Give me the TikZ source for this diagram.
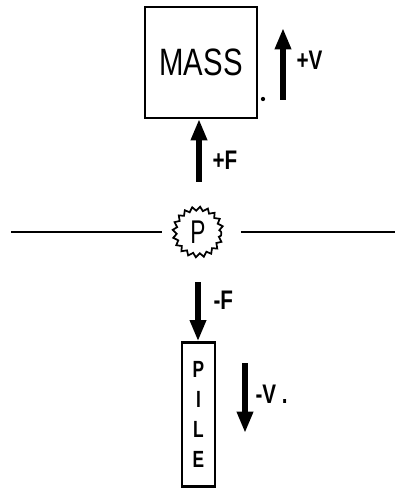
\documentclass[tikz,border=0pt]{standalone}
\usepackage{graphicx}
\usepackage{fontspec}
\setmainfont{Liberation Sans}
\usetikzlibrary{arrows.meta,positioning,decorations.pathmorphing}
\newcommand{\tall}[2][1.3]{\scalebox{1}[#1]{#2}}

\begin{document}
\begin{tikzpicture}[
    x=0.75pt,y=-0.75pt,
    body/.style={draw,line width=1.7pt,inner sep=0pt},
    force/.style={-{Triangle[length=16pt,width=11.5pt]},line width=4pt},
    lbl/.style={font=\fontsize{15.5}{18}\selectfont\bfseries,inner sep=1pt,anchor=west},
  ]
  \useasboundingbox (0,0) rectangle (395,488);

  % Bodies
  \node[body,minimum width=84pt,minimum height=83pt,
        font=\fontsize{22}{24}\selectfont] (mass) at (201,62.5)
        {\raisebox{-5pt}{\tall[1.3]{MASS}}};
  \node[body,minimum width=24.75pt,minimum height=108pt,align=center,
        font=\fontsize{13}{22.5}\selectfont\bfseries] (pile) at (198.5,414.5)
        {\tall[1.35]{P}\\\tall[1.35]{I}\\\tall[1.35]{L}\\\tall[1.35]{E}};

  % Impact point on the ground line
  \node[draw,circle,line width=1.3pt,minimum size=35pt,inner sep=0pt,
        decorate,decoration={zigzag,segment length=5.5pt,amplitude=1.5pt},
        font=\fontsize{17}{20}\selectfont] (p) at (198,232) {\tall[1.45]{P}};
  \coordinate (gl) at (11,232);
  \coordinate (gr) at (395,232);
  \draw[line width=2pt,shorten >=9pt] (gl) -- (p.west);
  \draw[line width=2pt,shorten <=14pt] (p.east) -- (gr);

  % Force and velocity of the mass
  \coordinate (fu) at (199,182);
  \draw[force] (fu) -- (fu |- mass.south);
  \node[lbl] (fulbl) at (211,160) {\tall{+F}};
  \coordinate (vu) at (283,100);
  \coordinate (vutip) at (283,28);
  \draw[force] (vu) -- (vutip);
  \node[lbl] (vulbl) at (295,60) {\tall{+V}};
  \fill (263,99) circle (1.6pt);

  % Force and velocity of the pile
  \coordinate (fd) at (198,282);
  \draw[force] (fd) -- (fd |- pile.north);
  \node[lbl] (fdlbl) at (212,300) {\tall{-F}};
  \coordinate (vd) at (245,363);
  \coordinate (vdtip) at (245,433);
  \draw[force] (vd) -- (vdtip);
  \node[lbl] (vdlbl) at (254,394) {\tall{-V .}};

\end{tikzpicture}
\end{document}
